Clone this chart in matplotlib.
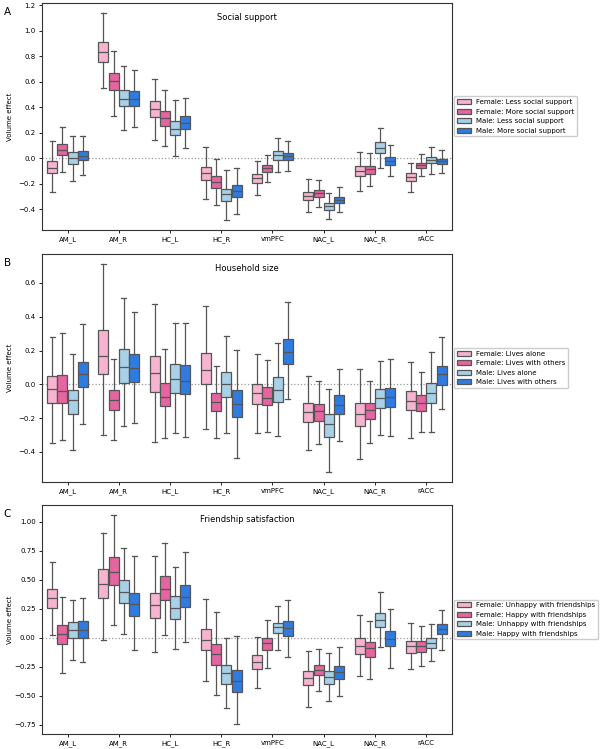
import numpy as np
import matplotlib.pyplot as plt
from matplotlib.patches import Patch

regions = ['AM_L', 'AM_R', 'HC_L', 'HC_R', 'vmPFC', 'NAC_L', 'NAC_R', 'rACC']
colors = ['#f6b4d0', '#e4659f', '#a8d0e6', '#2f7be0']

# each box: whisker low, q1, median, q3, whisker high
# order inside a region: female-a, female-b, male-a, male-b
social = [
    [[-0.264, -0.119, -0.075, -0.023, 0.132], [-0.109, 0.023, 0.065, 0.111, 0.244],
     [-0.179, -0.044, 0.0, 0.047, 0.176], [-0.13, -0.016, 0.021, 0.06, 0.171]],
    [[0.552, 0.759, 0.832, 0.91, 1.138], [0.332, 0.534, 0.604, 0.671, 0.845],
     [0.218, 0.41, 0.469, 0.534, 0.723], [0.244, 0.412, 0.469, 0.529, 0.695]],
    [[0.145, 0.327, 0.389, 0.448, 0.622], [0.098, 0.257, 0.314, 0.371, 0.534],
     [0.016, 0.179, 0.228, 0.295, 0.461], [0.08, 0.228, 0.28, 0.329, 0.474]],
    [[-0.321, -0.171, -0.114, -0.07, 0.088], [-0.368, -0.231, -0.184, -0.14, -0.008],
     [-0.482, -0.337, -0.277, -0.244, -0.096], [-0.438, -0.306, -0.257, -0.213, -0.075]],
    [[-0.29, -0.192, -0.158, -0.127, -0.023], [-0.187, -0.106, -0.078, -0.052, 0.023],
     [-0.106, -0.013, 0.023, 0.054, 0.158], [-0.101, -0.016, 0.016, 0.041, 0.132]],
    [[-0.425, -0.329, -0.295, -0.264, -0.166], [-0.386, -0.306, -0.275, -0.251, -0.171],
     [-0.477, -0.41, -0.378, -0.353, -0.27], [-0.425, -0.353, -0.324, -0.301, -0.223]],
    [[-0.257, -0.14, -0.104, -0.062, 0.049], [-0.22, -0.122, -0.088, -0.057, 0.039],
     [-0.073, 0.044, 0.08, 0.124, 0.236], [-0.143, -0.052, -0.021, 0.01, 0.106]],
    [[-0.264, -0.179, -0.145, -0.119, -0.036], [-0.143, -0.075, -0.054, -0.036, 0.031],
     [-0.122, -0.039, -0.01, 0.01, 0.086], [-0.114, -0.047, -0.021, -0.003, 0.065]],
]

household = [
    [[-0.345, -0.11, -0.025, 0.047, 0.282], [-0.327, -0.108, -0.041, 0.057, 0.302],
     [-0.388, -0.173, -0.092, -0.031, 0.182], [-0.235, -0.014, 0.061, 0.131, 0.357]],
    [[-0.3, 0.061, 0.169, 0.322, 0.71], [-0.329, -0.151, -0.09, -0.031, 0.151],
     [-0.245, 0.01, 0.104, 0.21, 0.512], [-0.227, 0.016, 0.096, 0.178, 0.425]],
    [[-0.339, -0.043, 0.065, 0.165, 0.476], [-0.316, -0.129, -0.073, 0.006, 0.208],
     [-0.29, -0.053, 0.033, 0.12, 0.363], [-0.312, -0.057, 0.022, 0.112, 0.363]],
    [[-0.265, 0.002, 0.086, 0.184, 0.461], [-0.316, -0.157, -0.102, -0.051, 0.108],
     [-0.288, -0.073, 0.0, 0.073, 0.286], [-0.435, -0.196, -0.114, -0.035, 0.206]],
    [[-0.29, -0.114, -0.053, 0.004, 0.182], [-0.284, -0.124, -0.08, -0.018, 0.143],
     [-0.304, -0.102, -0.033, 0.041, 0.243], [-0.084, 0.118, 0.194, 0.271, 0.488]],
    [[-0.386, -0.222, -0.161, -0.11, 0.051], [-0.355, -0.216, -0.159, -0.118, 0.018],
     [-0.516, -0.31, -0.237, -0.176, -0.027], [-0.337, -0.176, -0.124, -0.065, 0.09]],
    [[-0.443, -0.245, -0.173, -0.112, 0.088], [-0.349, -0.206, -0.149, -0.11, 0.022],
     [-0.3, -0.137, -0.078, -0.025, 0.137], [-0.304, -0.133, -0.076, -0.02, 0.151]],
    [[-0.32, -0.153, -0.096, -0.039, 0.131], [-0.284, -0.157, -0.11, -0.065, 0.075],
     [-0.284, -0.108, -0.053, 0.008, 0.19], [-0.147, -0.004, 0.059, 0.11, 0.278]],
]

friendship = [
    [[0.023, 0.259, 0.342, 0.417, 0.653], [-0.308, -0.052, 0.035, 0.112, 0.351],
     [-0.193, 0.0, 0.066, 0.132, 0.322], [-0.21, -0.003, 0.069, 0.141, 0.345]],
    [[-0.017, 0.345, 0.466, 0.59, 0.904], [0.109, 0.458, 0.57, 0.696, 1.056],
     [0.032, 0.302, 0.397, 0.495, 0.774], [-0.104, 0.19, 0.288, 0.388, 0.702]],
    [[-0.121, 0.173, 0.282, 0.388, 0.702], [0.026, 0.322, 0.42, 0.535, 0.82],
     [-0.101, 0.161, 0.259, 0.36, 0.61], [-0.035, 0.262, 0.354, 0.458, 0.742]],
    [[-0.377, -0.106, -0.017, 0.075, 0.331], [-0.498, -0.236, -0.144, -0.052, 0.219],
     [-0.604, -0.397, -0.308, -0.236, -0.003], [-0.742, -0.469, -0.374, -0.276, 0.012]],
    [[-0.437, -0.268, -0.207, -0.15, 0.009], [-0.265, -0.109, -0.049, -0.006, 0.153],
     [-0.106, 0.037, 0.089, 0.13, 0.271], [-0.164, 0.012, 0.083, 0.141, 0.328]],
    [[-0.596, -0.412, -0.351, -0.291, -0.115], [-0.463, -0.325, -0.279, -0.236, -0.095],
     [-0.55, -0.397, -0.34, -0.291, -0.129], [-0.504, -0.354, -0.294, -0.242, -0.083]],
    [[-0.331, -0.138, -0.075, -0.006, 0.193], [-0.354, -0.167, -0.092, -0.037, 0.147],
     [-0.078, 0.089, 0.153, 0.216, 0.391], [-0.262, -0.072, -0.009, 0.058, 0.25]],
    [[-0.268, -0.129, -0.075, -0.029, 0.127], [-0.247, -0.121, -0.072, -0.029, 0.104],
     [-0.201, -0.089, -0.043, -0.003, 0.115], [-0.104, 0.029, 0.072, 0.118, 0.242]],
]

labels_social = ['Female: Less social support', 'Female: More social support',
                 'Male: Less social support', 'Male: More social support']
labels_house = ['Female: Lives alone', 'Female: Lives with others',
                'Male: Lives alone', 'Male: Lives with others']
labels_friend = ['Female: Unhappy with friendships', 'Female: Happy with friendships',
                 'Male: Unhappy with friendships', 'Male: Happy with friendships']

edge = '#555555'


def draw_panel(ax, data, labels, title, letter):
    for g in range(4):
        stats = []
        for r in range(len(regions)):
            lo, q1, med, q3, hi = data[r][g]
            stats.append(dict(whislo=lo, q1=q1, med=med, q3=q3, whishi=hi, fliers=[]))
        pos = np.arange(len(regions)) + (g - 1.5) * 0.2
        ax.bxp(stats, positions=pos, widths=0.196, patch_artist=True, showfliers=False,
               boxprops=dict(facecolor=colors[g], edgecolor=edge, linewidth=0.9),
               whiskerprops=dict(color=edge, linewidth=0.9),
               capprops=dict(color=edge, linewidth=0.9),
               medianprops=dict(color=edge, linewidth=0.9))
    ax.axhline(0, color='#999999', linestyle=':', linewidth=0.9, zorder=0)
    ax.set_xticks(np.arange(len(regions)))
    ax.set_xticklabels(regions)
    ax.set_xlim(-0.5, len(regions) - 0.5)
    ax.set_ylabel('Volume effect', fontsize=5)
    ax.yaxis.set_label_coords(-0.071, 0.5)
    ax.tick_params(labelsize=5, length=2.5, width=0.6, pad=2)
    for s in ax.spines.values():
        s.set_color('#333333')
        s.set_linewidth(0.8)
    ax.text(0.5, 0.935, title, transform=ax.transAxes, ha='center', va='center', fontsize=6)
    handles = [Patch(facecolor=colors[g], edgecolor=edge, linewidth=0.9, label=labels[g])
               for g in range(4)]
    ax.legend(handles=handles, loc='center left', bbox_to_anchor=(1.0, 0.5),
              fontsize=5, borderaxespad=0.3, handlelength=2.0, handleheight=0.7,
              handletextpad=0.8, labelspacing=0.5, borderpad=0.4, framealpha=1)
    ax.figure.text(0.006, ax.get_position().y1 - 0.012, letter, fontsize=7.5, va='center')


fig = plt.figure(figsize=(6.04, 7.49), dpi=100)
ax1 = fig.add_axes([0.0695, 0.693, 0.6785, 0.303])
ax2 = fig.add_axes([0.0695, 0.3565, 0.6785, 0.3045])
ax3 = fig.add_axes([0.0695, 0.020, 0.6785, 0.3058])

draw_panel(ax1, social, labels_social, 'Social support', 'A')
draw_panel(ax2, household, labels_house, 'Household size', 'B')
draw_panel(ax3, friendship, labels_friend, 'Friendship satisfaction', 'C')

fig.savefig('out.png', dpi=100)
